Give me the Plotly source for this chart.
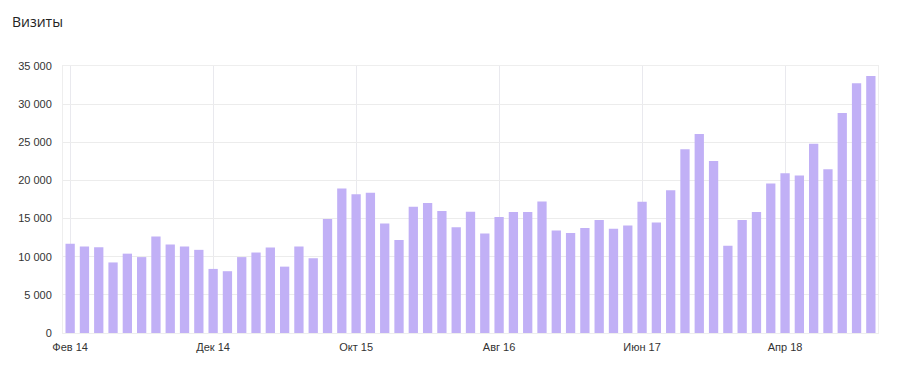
import plotly.graph_objects as go

month_names = ["Янв", "Фев", "Мар", "Апр", "Май", "Июн", "Июл", "Авг", "Сен", "Окт", "Ноя", "Дек"]

# Monthly categories Feb 2014 .. Oct 2018
months = []
y, m = 2014, 1
for _ in range(57):
    months.append(f"{month_names[m]} {str(y)[2:]}")
    m += 1
    if m == 12:
        m = 0
        y += 1

visits = [
    11700, 11350, 11250, 9250, 10400, 9950, 12650, 11600, 11350, 10900,
    8400, 8100, 9950, 10550, 11200, 8700, 11350, 9800, 14950, 18950,
    18200, 18400, 14350, 12200, 16550, 17050, 16000, 13850, 15900, 13050,
    15200, 15850, 15850, 17250, 13450, 13100, 13750, 14800, 13650, 14100,
    17200, 14500, 18700, 24100, 26100, 22550, 11450, 14800, 15850, 19600,
    20950, 20650, 24800, 21450, 28850, 32750, 33700,
]

tick_labels = ["Фев 14", "Дек 14", "Окт 15", "Авг 16", "Июн 17", "Апр 18"]

fig = go.Figure(
    go.Bar(x=months, y=visits, marker=dict(color="#c1b0f6", line=dict(width=0)),
           hoverinfo="x+y")
)

# page body has an 8px margin; figure is sized/offset to compensate
W, H = 892, 365
fig.update_layout(
    width=W, height=H,
    margin=dict(l=55, r=22, t=58, b=40, autoexpand=False),
    paper_bgcolor="white", plot_bgcolor="white",
    bargap=0.35,
    separators=", ",
    showlegend=False,
    font=dict(family="Liberation Sans, Arial, sans-serif", size=11, color="#333333"),
    title=dict(text="Визиты", x=4 / W, xanchor="left", xref="container",
               y=1 - 14 / H, yanchor="middle", yref="container",
               font=dict(family="Open Sans, Noto Sans, sans-serif", size=14, color="#222222")),
)
fig.update_xaxes(
    type="category", automargin=False,
    tickvals=tick_labels, ticktext=tick_labels,
    showgrid=True, gridcolor="#e9e9ee", gridwidth=1,
    showline=True, linecolor="#eeeeee", linewidth=1, mirror=True,
    ticks="outside", ticklen=4, tickcolor="white",
    tickfont=dict(size=11, color="#333333"),
)
fig.update_yaxes(
    range=[0, 35000], dtick=5000, tickformat=",d", automargin=False,
    showgrid=True, gridcolor="#ececec", gridwidth=1,
    showline=True, linecolor="#eeeeee", linewidth=1, mirror=True,
    zeroline=False,
    ticks="outside", ticklen=8, tickcolor="white",
    tickfont=dict(size=11, color="#333333"),
)

fig.write_html("out.html")
